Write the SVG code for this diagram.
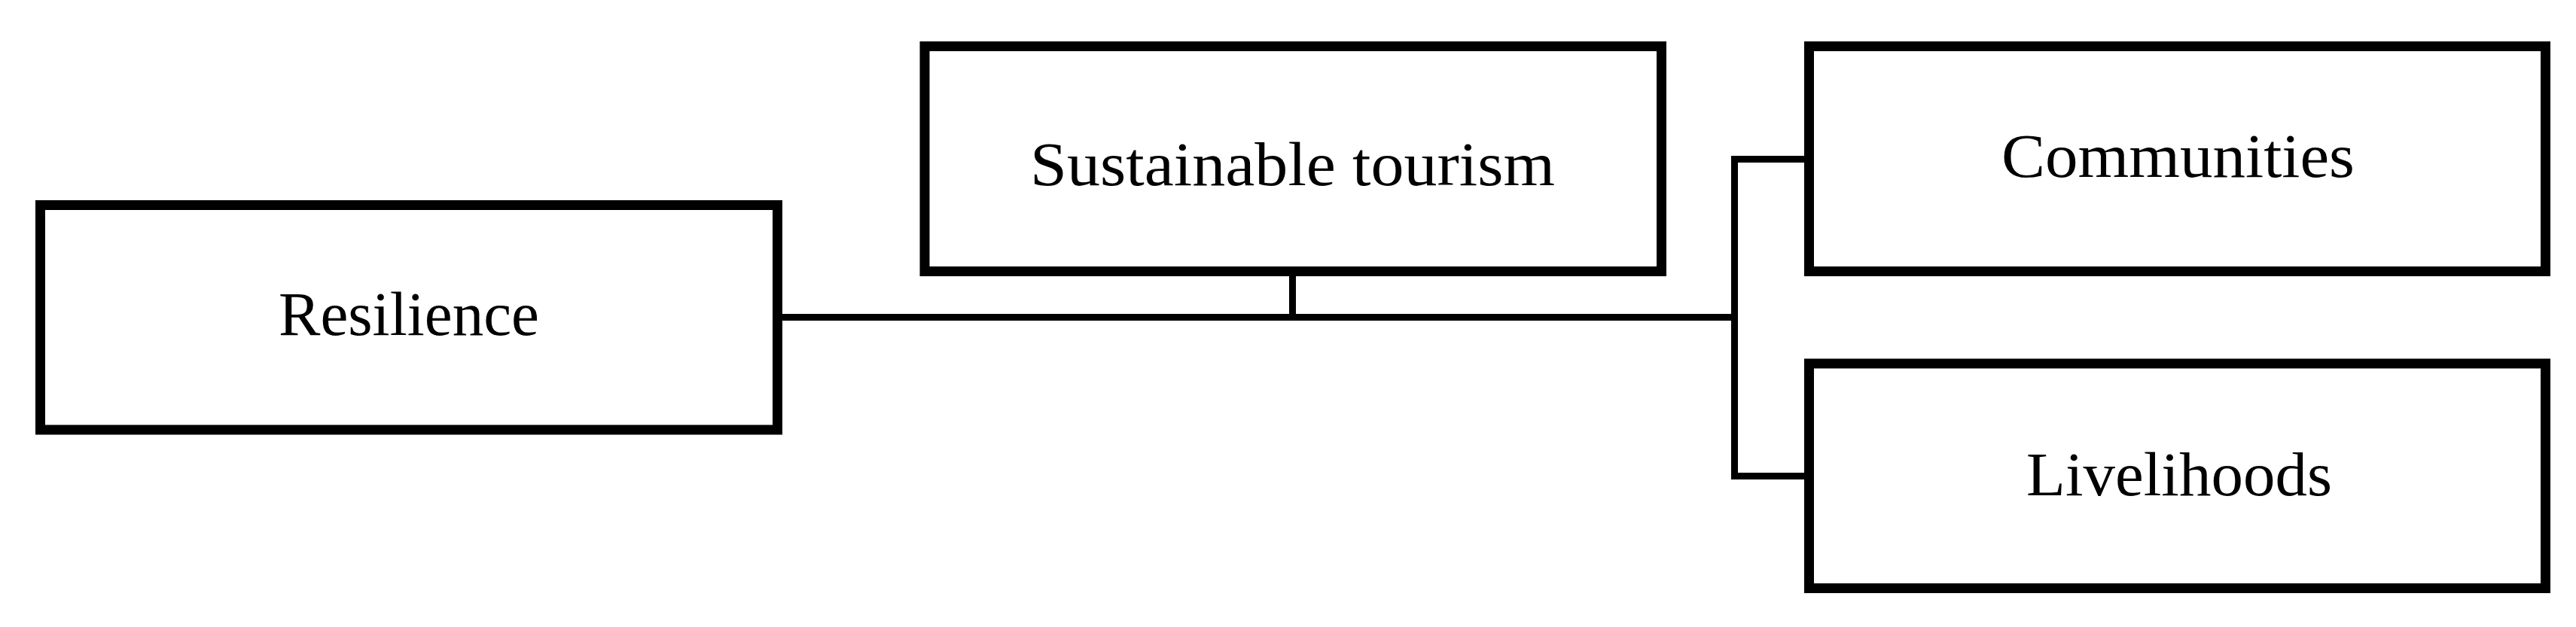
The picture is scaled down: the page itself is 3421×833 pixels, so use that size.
<svg xmlns="http://www.w3.org/2000/svg" width="3421" height="833" viewBox="0 0 3421 833">
<style>
.box{fill:#fff;stroke:#000;stroke-width:13}
.lbl{font-family:"Liberation Serif","Times New Roman",serif;font-size:83px;fill:#000;text-anchor:middle}
.con{fill:none;stroke:#000;stroke-width:9}
</style>
<rect width="3421" height="833" fill="#fff"/>
<g id="connectors">
<path class="con" d="M1039 421.5H2303.5"/>
<path class="con" d="M1716.5 367V421.5"/>
<path class="con" d="M2396 211.5H2303.5V632.5H2396"/>
</g>
<g id="resilience">
<rect class="box" x="53.5" y="272.5" width="979" height="298.5"/>
<text class="lbl" x="543" y="445" textLength="346" lengthAdjust="spacingAndGlyphs">Resilience</text>
</g>
<g id="sustainable-tourism">
<rect class="box" x="1228" y="61.5" width="978.5" height="299"/>
<text class="lbl" x="1716.5" y="246" textLength="697" lengthAdjust="spacingAndGlyphs">Sustainable tourism</text>
</g>
<g id="communities">
<rect class="box" x="2402.5" y="61.5" width="978" height="299"/>
<text class="lbl" x="2892.5" y="235" textLength="469" lengthAdjust="spacingAndGlyphs">Communities</text>
</g>
<g id="livelihoods">
<rect class="box" x="2402.5" y="483" width="978" height="298.5"/>
<text class="lbl" x="2894" y="658" textLength="406" lengthAdjust="spacingAndGlyphs">Livelihoods</text>
</g>
</svg>
